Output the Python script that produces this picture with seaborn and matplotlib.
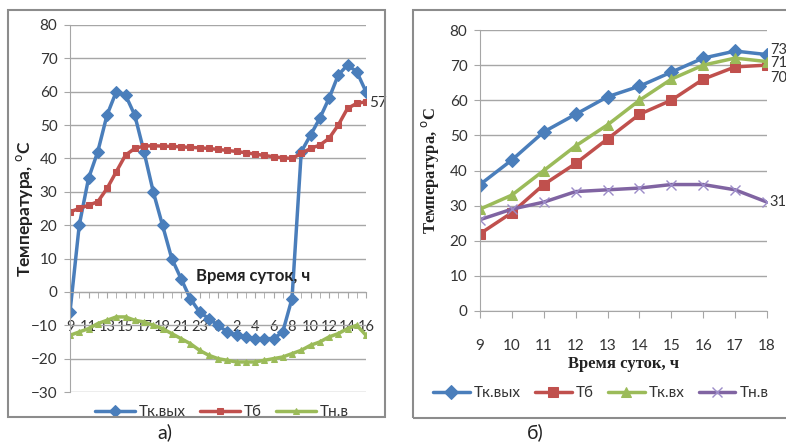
import numpy as np
import pandas as pd
import matplotlib
matplotlib.use("Agg")
import matplotlib.pyplot as plt
from matplotlib.patches import Rectangle
import seaborn as sns

# ---- data, chart a) (hourly, 9 h of day 1 to 16 h of day 2) ----
hours_a = ["9", "10", "11", "12", "13", "14", "15", "16", "17", "18", "19", "20", "21", "22", "23", "24",
           "0", "1", "2", "3", "4", "5", "6", "7", "8", "9", "10", "11", "12", "13", "14", "15", "16"]
tk_out_a = [-6, 20, 34, 42, 53, 60, 59, 53, 42, 30, 20, 10, 4, -2, -6, -8,
            -10, -12, -13, -13.5, -14, -14, -14, -12, -2, 42, 47, 52, 58, 65, 68, 66, 60]
tb_a = [24, 25, 26, 27, 31, 36, 41, 43, 43.7, 43.8, 43.7, 43.6, 43.5, 43.3, 43.2, 43,
        42.7, 42.4, 42.1, 41.7, 41.3, 40.9, 40.5, 40.2, 40, 41.5, 43, 44, 46, 50, 55, 56.5, 57]
tnv_a = [-13, -12, -11, -9.5, -8.5, -7.5, -7.5, -8.5, -9, -10, -11, -12.5, -14, -15.5, -17.5, -19,
         -20, -20.5, -21, -21, -21, -20.5, -20, -19.5, -18.5, -17.5, -16, -15, -13.5, -12.5, -11, -10, -13]

# ---- data, chart b) ----
hours_b = [9, 10, 11, 12, 13, 14, 15, 16, 17, 18]
tk_out_b = [36, 43, 51, 56, 61, 64, 68, 72, 74, 73]
tb_b = [22, 28, 36, 42, 49, 56, 60, 66, 69.5, 70]
tk_in_b = [29, 33, 40, 47, 53, 60, 66, 70, 72, 71]
tnv_b = [26, 29, 31, 34, 34.5, 35, 36, 36, 34.5, 31]

BLUE = "#4A7EBB"
RED = "#C0504D"
GREEN = "#9BBB59"
PURPLE = "#8064A2"
GRID = "#A6A6A6"
TXT = "#333333"

sns.set_style("white")
plt.rcParams["font.family"] = ["Lato", "DejaVu Sans"]

fig = plt.figure(figsize=(7.86, 4.44), dpi=100)

# chart frames
fig.patches.append(Rectangle((8 / 786, 1 - 417 / 444), 377 / 786, 407 / 444, transform=fig.transFigure,
                             fill=False, edgecolor="#8C8C8C", linewidth=1.5))
fig.patches.append(Rectangle((413 / 786, 1 - 418 / 444), 380 / 786, 408 / 444, transform=fig.transFigure,
                             fill=False, edgecolor="#8C8C8C", linewidth=1.5))

# ================= chart a) =================
ax1 = fig.add_axes([70 / 786, 1 - 392 / 444, 296 / 786, 367 / 444])
idx = np.arange(len(hours_a))
df_a = pd.DataFrame({"i": idx, "out": tk_out_a, "tb": tb_a, "tnv": tnv_a})

sns.lineplot(data=df_a, x="i", y="out", ax=ax1, color=BLUE, lw=2.5, marker="D", markersize=6,
             markeredgecolor=BLUE, label="Тк.вых")
sns.lineplot(data=df_a, x="i", y="tb", ax=ax1, color=RED, lw=2.5, marker="s", markersize=4,
             markeredgecolor=RED, label="Тб")
sns.lineplot(data=df_a, x="i", y="tnv", ax=ax1, color=GREEN, lw=2.5, marker="^", markersize=5,
             markeredgecolor=GREEN, label="Тн.в")

ax1.set_xlim(0, len(hours_a) - 1)
ax1.set_ylim(-30, 80)
ax1.set_yticks(range(-30, 81, 10))
ax1.set_xticks(idx[::2])
ax1.set_xticklabels(hours_a[::2])
ax1.set_xticks(idx, minor=True)
ax1.yaxis.grid(True, color=GRID, lw=1)
ax1.set_axisbelow(True)
for s in ["top", "right"]:
    ax1.spines[s].set_visible(False)
ax1.spines["left"].set_color(GRID)
ax1.spines["bottom"].set_color(GRID)
ax1.spines["bottom"].set_position(("data", 0))
ax1.tick_params(axis="y", length=4, color=GRID, pad=5, labelsize=11, labelcolor=TXT, left=True)
ax1.tick_params(axis="x", which="both", length=4, color=GRID, direction="out", bottom=True,
                pad=16, labelsize=10.5, labelcolor=TXT)
ax1.set_xlabel("")
ax1.set_ylabel(r"Температура, $^\mathrm{o}$С", fontsize=12.5, fontweight="bold", color="#222222", labelpad=-3)
ax1.text(0.62, 0.295, "Время суток, ч", transform=ax1.transAxes, ha="center", va="bottom",
         fontsize=12, fontweight="bold", color="#222222")
ax1.annotate(f"{tb_a[-1]:g}", (idx[-1], tb_a[-1]), xytext=(2, -1), textcoords="offset points",
             ha="left", va="center", fontsize=11, color=TXT, annotation_clip=False)
ax1.legend(loc="center", bbox_to_anchor=(222 / 786, 1 - 412 / 444), bbox_transform=fig.transFigure,
           ncol=3, frameon=False, fontsize=11, handlelength=2.6, handletextpad=0.3, columnspacing=0.9,
           labelcolor=TXT)

# ================= chart b) =================
ax2 = fig.add_axes([480 / 786, 1 - 311 / 444, 287 / 786, 281 / 444])
df_b = pd.DataFrame({"h": hours_b, "out": tk_out_b, "tb": tb_b, "tin": tk_in_b, "tnv": tnv_b})

sns.lineplot(data=df_b, x="h", y="out", ax=ax2, color=BLUE, lw=2.5, marker="D", markersize=7,
             markeredgecolor=BLUE, label="Тк.вых")
sns.lineplot(data=df_b, x="h", y="tb", ax=ax2, color=RED, lw=2.5, marker="s", markersize=7,
             markeredgecolor=RED, label="Тб")
sns.lineplot(data=df_b, x="h", y="tin", ax=ax2, color=GREEN, lw=2.5, marker="^", markersize=7,
             markeredgecolor=GREEN, label="Тк.вх")
sns.lineplot(data=df_b, x="h", y="tnv", ax=ax2, color=PURPLE, lw=2.5, marker="x", markersize=7,
             markeredgewidth=1, markeredgecolor="#9C8CC8", label="Тн.в")

ax2.set_xlim(hours_b[0], hours_b[-1])
ax2.set_ylim(0, 80)
ax2.set_yticks(range(0, 81, 10))
ax2.set_xticks(hours_b)
ax2.yaxis.grid(True, color=GRID, lw=1)
ax2.set_axisbelow(True)
for s in ["top", "right"]:
    ax2.spines[s].set_visible(False)
ax2.spines["left"].set_color(GRID)
ax2.spines["bottom"].set_color(GRID)
ax2.tick_params(axis="y", length=4, color=GRID, pad=5, labelsize=11, labelcolor=TXT, left=True)
ax2.tick_params(axis="x", length=5, color=GRID, direction="out", bottom=True, pad=15,
                labelsize=11, labelcolor=TXT)
serif = ["Liberation Serif", "DejaVu Serif"]
ax2.set_xlabel("Время суток, ч", fontsize=12, fontweight="bold", family=serif, color="#222222", labelpad=2)
ax2.set_ylabel(r"Температура, $^\mathrm{o}$С", fontsize=12, fontweight="bold", family=serif,
               color="#222222", labelpad=6)

# end-of-series value labels
end_offsets = [3, -1, -9, 0]
for ser, off in zip([tk_out_b, tk_in_b, tb_b, tnv_b], end_offsets):
    ax2.annotate(f"{ser[-1]:g}", (hours_b[-1], ser[-1]), xytext=(2, off), textcoords="offset points",
                 ha="left", va="center", fontsize=10.5, color=TXT, annotation_clip=False)

ax2.legend(loc="center", bbox_to_anchor=(601 / 786, 1 - 393 / 444), bbox_transform=fig.transFigure,
           ncol=4, frameon=False, fontsize=11, handlelength=2.4, handletextpad=0.3, columnspacing=0.9,
           labelcolor=TXT)

fig.text(165 / 786, 1 - 432 / 444, "а)", ha="center", va="center", fontsize=14, color="#222222")
fig.text(535 / 786, 1 - 432 / 444, "б)", ha="center", va="center", fontsize=14, color="#222222")

fig.savefig("out.png", dpi=100)
